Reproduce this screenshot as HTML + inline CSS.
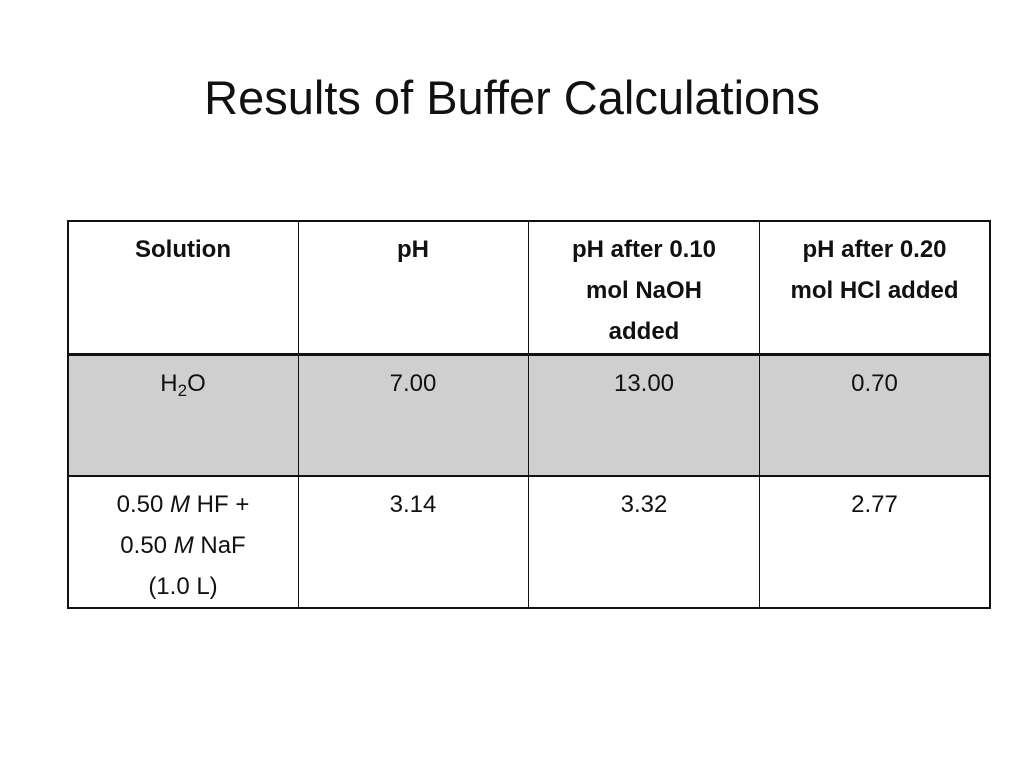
<!DOCTYPE html>
<html><head><meta charset="utf-8"><style>
body{margin:0;width:1024px;height:768px;background:#fff;position:relative;overflow:hidden;font-family:"Liberation Sans",sans-serif;color:#111}
h1{position:absolute;left:0;width:1024px;top:68px;margin:0;text-align:center;font-weight:normal;font-size:47px;line-height:60px}
.c{position:absolute;text-align:center;font-size:24px;line-height:41px;padding-top:7px;box-sizing:border-box;white-space:nowrap}
.h{font-weight:bold}
.ln{position:absolute;background:#111}
</style></head><body>
<h1>Results of Buffer Calculations</h1>
<div>
<div class="ln" style="left:68px;top:355px;width:922px;height:120px;background:#cfcfcf"></div>
<div class="ln" style="left:68px;top:220px;width:923px;height:2px"></div>
<div class="ln" style="left:68px;top:353px;width:923px;height:3px"></div>
<div class="ln" style="left:68px;top:475px;width:923px;height:2px"></div>
<div class="ln" style="left:68px;top:607px;width:923px;height:2px"></div>
<div class="ln" style="left:67px;top:220px;width:2px;height:389px"></div>
<div class="ln" style="left:298px;top:220px;width:1px;height:389px"></div>
<div class="ln" style="left:528px;top:220px;width:1px;height:389px"></div>
<div class="ln" style="left:759px;top:220px;width:1px;height:389px"></div>
<div class="ln" style="left:989px;top:220px;width:2px;height:389px"></div>

<div class="c h" style="left:68px;top:222px;width:230px">Solution</div>
<div class="c h" style="left:298px;top:222px;width:230px">pH</div>
<div class="c h" style="left:529px;top:222px;width:230px">pH after 0.10<br>mol NaOH<br>added</div>
<div class="c h" style="left:759px;top:222px;width:231px">pH after 0.20<br>mol HCl added</div>

<div class="c" style="left:68px;top:356px;width:230px">H<sub style="font-size:17px;vertical-align:-5px">2</sub>O</div>
<div class="c" style="left:298px;top:356px;width:230px">7.00</div>
<div class="c" style="left:529px;top:356px;width:230px">13.00</div>
<div class="c" style="left:759px;top:356px;width:231px">0.70</div>

<div class="c" style="left:68px;top:477px;width:230px">0.50 <i>M</i> HF +<br>0.50 <i>M</i> NaF<br>(1.0 L)</div>
<div class="c" style="left:298px;top:477px;width:230px">3.14</div>
<div class="c" style="left:529px;top:477px;width:230px">3.32</div>
<div class="c" style="left:759px;top:477px;width:231px">2.77</div>
</div>
</body></html>
